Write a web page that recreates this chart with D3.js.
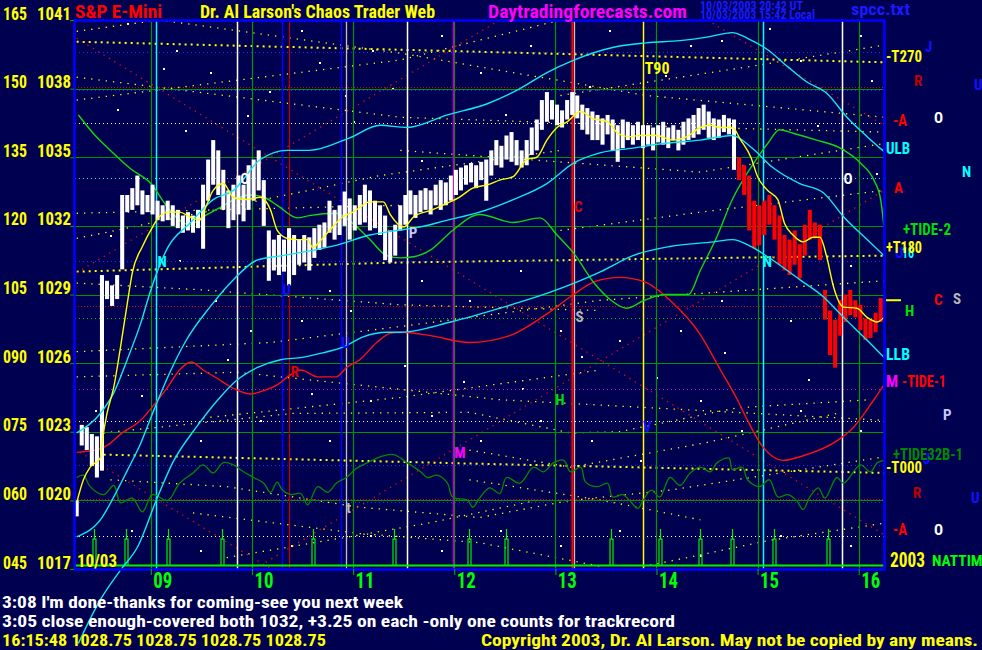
<!DOCTYPE html>
<html><head><meta charset="utf-8">
<script src="https://cdn.jsdelivr.net/npm/d3@7"></script>
<style>
html,body{margin:0;padding:0;background:#000050;overflow:hidden;}
svg{display:block;}
text{font-family:"Liberation Sans Narrow","Arial Narrow","Roboto Condensed","Liberation Sans",Arial,sans-serif;font-weight:bold;}
</style></head><body>
<svg id="chart" width="982" height="650"></svg>
<script>
// ---------------- DATA ----------------
const priceTicks = [1017,1020,1023,1026,1029,1032,1035,1038,1041];
const degreeLabels = ["045","060","075","090","105","120","135","150","165"];
const hourTicks = ["09:00","10:00","11:00","12:00","13:00","14:00","15:00","16:00"];
const timeDomain = ["08:15","16:15"];

const barStart = "08:16", barStepMin = 3, redFrom = "14:48";
const barHigh = [1020.0,1023.3,1023.2,1022.9,1022.8,1029.85,1029.6,1029.4,1029.85,1033.35,
1033.35,1033.65,1034.2,1033.55,1033.35,1033.8,1033.1,1032.9,1033.1,1032.9,
1032.7,1032.45,1032.6,1032.45,1032.7,1033.8,1034.9,1035.75,1035.3,1034.45,
1033.55,1033.8,1034.2,1033.8,1034.65,1034.9,1035.3,1034.0,1031.8,1031.4,
1031.6,1031.4,1031.9,1031.6,1031.4,1031.6,1031.5,1031.9,1032.05,1032.15,
1033.1,1032.7,1032.9,1033.5,1033.2,1032.9,1033.35,1033.8,1033.55,1033.1,
1032.9,1032.45,1031.8,1032.05,1032.9,1033.35,1033.55,1033.35,1033.55,1033.65,
1033.55,1033.8,1034.0,1033.9,1034.2,1034.45,1034.55,1034.65,1034.75,1034.65,
1034.8,1034.9,1035.3,1035.75,1035.5,1035.95,1036.1,1035.75,1035.3,1035.75,
1036.3,1036.65,1037.5,1037.85,1037.5,1037.3,1037.05,1037.5,1037.85,1037.7,
1037.3,1037.15,1037.0,1036.85,1036.7,1036.85,1036.65,1036.4,1036.65,1036.55,
1036.4,1036.55,1036.4,1036.4,1036.3,1036.4,1036.55,1036.3,1036.4,1036.2,
1036.55,1036.7,1036.85,1037.15,1037.3,1037.0,1036.7,1036.65,1036.85,1036.7,
1036.65,1035.0,1034.65,1034.2,1033.1,1032.9,1033.1,1033.35,1032.9,1032.45,
1031.6,1031.4,1031.8,1031.2,1032.05,1032.7,1032.15,1032.05,1029.2,1028.3,
1027.9,1028.75,1029.0,1029.2,1028.75,1028.55,1027.95,1027.9,1028.2,1028.85];
const barLow = [1019.3,1022.4,1022.2,1021.5,1021.0,1021.3,1028.8,1028.5,1028.8,1030.1,
1032.6,1032.7,1032.9,1032.5,1032.6,1032.5,1032.25,1032.2,1032.25,1032.0,
1031.9,1031.7,1031.8,1031.7,1031.9,1031.0,1033.1,1033.8,1033.35,1032.7,
1031.9,1032.25,1032.5,1032.2,1032.7,1033.1,1033.55,1032.0,1029.6,1030.05,
1029.85,1030.0,1029.4,1029.85,1030.3,1030.4,1030.05,1030.6,1030.95,1031.05,
1031.7,1031.4,1031.6,1032.0,1031.4,1031.8,1032.05,1032.15,1031.8,1031.9,
1031.6,1030.5,1030.4,1030.7,1031.8,1032.05,1032.5,1032.35,1032.6,1032.7,
1032.5,1032.9,1032.7,1032.9,1033.1,1033.35,1033.55,1033.8,1033.9,1033.65,
1034.0,1033.1,1034.2,1034.65,1034.55,1034.9,1034.8,1034.65,1034.55,1034.65,
1035.1,1035.3,1036.2,1036.55,1036.65,1036.4,1036.3,1036.65,1036.85,1036.7,
1036.2,1036.0,1035.75,1035.75,1035.55,1036.0,1035.3,1034.8,1035.4,1035.75,
1035.55,1035.75,1035.4,1035.55,1035.3,1035.65,1035.55,1035.4,1035.75,1035.3,
1035.55,1035.75,1035.85,1036.0,1036.2,1035.85,1035.75,1035.85,1036.1,1036.0,
1034.45,1034.0,1033.35,1031.8,1031.0,1031.15,1031.6,1032.05,1031.4,1030.3,
1030.05,1029.85,1030.3,1029.7,1030.7,1031.4,1031.45,1030.5,1027.9,1026.35,
1025.8,1027.2,1027.8,1028.1,1028.0,1027.45,1027.0,1027.1,1027.35,1027.8];
const lastPrice = 1028.75;

const maLine = [["08:16",1019.9],["08:20",1020.9],["08:24",1021.45],["08:30",1021.85],["08:31",1022.5],["08:34",1023.8],["08:38",1024.95],["08:42",1026.7],["08:46",1028.6],["08:49",1029.95],["08:55",1031.1],["09:01",1031.95],["09:05",1032.4],["09:11",1032.6],["09:17",1032.6],["09:23",1032.4],["09:29",1032.25],["09:33",1032.9],["09:37",1033.55],["09:43",1033.85],["09:49",1033.25],["09:57",1033.15],["10:05",1033.25],["10:11",1032.7],["10:15",1031.8],["10:21",1031.45],["10:27",1031.4],["10:33",1031.4],["10:36",1031.05],["10:40",1031.3],["10:46",1031.8],["10:54",1032.4],["11:00",1032.6],["11:10",1033.05],["11:18",1033.05],["11:22",1032.5],["11:30",1031.95],["11:36",1032.4],["11:47",1032.7],["11:56",1033.0],["12:03",1033.25],["12:11",1033.65],["12:20",1033.8],["12:27",1034.0],["12:35",1034.15],["12:43",1034.9],["12:49",1035.0],["12:55",1035.75],["13:01",1036.3],["13:07",1036.55],["13:15",1037.0],["13:22",1036.7],["13:31",1036.55],["13:37",1036.05],["13:43",1035.9],["13:50",1035.95],["14:00",1035.95],["14:10",1035.75],["14:18",1035.9],["14:26",1036.3],["14:32",1036.4],["14:38",1036.3],["14:45",1036.3],["14:50",1035.75],["14:56",1035.0],["15:00",1034.15],["15:06",1033.55],["15:12",1033.15],["15:16",1032.1],["15:21",1031.6],["15:27",1031.3],["15:33",1031.5],["15:37",1031.5],["15:41",1030.65],["15:45",1029.35],["15:51",1028.45],["15:59",1028.4],["16:05",1028.0],["16:11",1027.8],["16:15",1028.0]];

const ulbLine = [["08:16",1022.95],["08:30",1023.8],["08:38",1024.7],["08:46",1026.15],["08:54",1027.75],["09:00",1029.2],["09:10",1031.05],["09:23",1032.1],["09:37",1033.15],["09:49",1033.55],["10:05",1034.9],["10:21",1035.3],["10:34",1035.3],["10:58",1035.85],["11:16",1036.4],["11:32",1036.3],["11:56",1036.85],["12:20",1037.35],["12:39",1038.0],["12:55",1038.7],["13:11",1039.25],["13:34",1039.8],["13:54",1040.0],["14:14",1040.1],["14:30",1040.25],["14:45",1040.45],["14:54",1040.2],["15:06",1039.7],["15:18",1038.95],["15:29",1038.3],["15:41",1037.8],["15:53",1036.75],["16:05",1035.9],["16:15",1035.25]];

const midCyanLine = [["08:16",1018.4],["08:31",1019.25],["08:38",1020.15],["08:46",1021.3],["08:54",1022.5],["09:01",1023.8],["09:11",1025.55],["09:21",1027.0],["09:35",1028.45],["09:49",1029.65],["10:03",1030.5],["10:18",1030.7],["10:30",1030.85],["10:50",1031.15],["11:10",1031.6],["11:26",1031.8],["11:36",1031.9],["11:56",1032.25],["12:15",1032.6],["12:35",1033.15],["12:55",1033.85],["13:11",1034.75],["13:27",1035.2],["13:46",1035.4],["14:04",1035.6],["14:26",1035.75],["14:45",1035.95],["14:56",1035.45],["15:09",1034.55],["15:25",1033.85],["15:39",1033.45],["15:51",1032.4],["16:05",1031.4],["16:15",1030.7]];

const llbLine = [["08:17",1013.75],["08:30",1015.65],["08:42",1016.95],["08:52",1017.95],["09:04",1020.15],["09:13",1021.65],["09:27",1023.2],["09:41",1024.5],["09:51",1025.25],["10:03",1025.8],["10:17",1026.15],["10:30",1026.25],["10:42",1026.45],["10:54",1026.7],["11:06",1027.15],["11:20",1027.35],["11:28",1027.35],["11:58",1027.8],["12:27",1028.4],["12:57",1029.1],["13:27",1030.0],["13:46",1030.7],["14:08",1031.1],["14:34",1031.3],["14:45",1031.4],["14:56",1031.1],["15:06",1030.65],["15:25",1029.65],["15:39",1028.9],["15:51",1028.0],["16:05",1027.0],["16:15",1026.25]];

const greenLine = [["08:17",1036.85],["08:27",1035.95],["08:36",1035.3],["08:48",1034.5],["09:00",1033.85],["09:10",1032.8],["09:17",1032.25],["09:23",1032.05],["09:31",1032.4],["09:41",1032.8],["09:51",1033.2],["09:59",1033.35],["10:07",1033.25],["10:15",1032.9],["10:27",1032.35],["10:34",1032.45],["10:50",1032.55],["11:00",1032.1],["11:10",1031.4],["11:20",1030.7],["11:28",1030.6],["11:36",1030.65],["11:46",1030.95],["11:59",1031.8],["12:15",1032.5],["12:35",1032.15],["12:51",1032.35],["13:01",1031.6],["13:11",1030.8],["13:23",1029.5],["13:33",1028.75],["13:42",1028.4],["13:53",1028.75],["14:05",1029.0],["14:19",1029.0],["14:26",1030.05],["14:36",1031.55],["14:45",1033.15],["14:56",1034.55],["15:06",1035.6],["15:13",1036.2],["15:21",1036.05],["15:35",1035.75],["15:49",1035.4],["16:01",1034.75],["16:09",1034.0],["16:13",1033.15],["16:15",1031.95]];

const redLine = [["08:16",1022.1],["08:30",1022.25],["08:34",1022.4],["08:43",1022.95],["08:54",1023.5],["09:01",1024.1],["09:10",1024.95],["09:17",1025.7],["09:24",1026.05],["09:31",1025.7],["09:39",1025.35],["09:49",1024.9],["09:59",1024.65],["10:07",1024.8],["10:15",1025.05],["10:23",1025.5],["10:29",1025.7],["10:39",1025.4],["10:50",1025.4],["10:56",1025.8],["11:04",1026.15],["11:14",1026.9],["11:22",1027.3],["11:28",1027.35],["11:46",1027.2],["12:09",1026.9],["12:33",1027.2],["12:54",1028.1],["13:09",1028.9],["13:23",1029.55],["13:38",1029.75],["13:53",1029.55],["14:08",1028.75],["14:26",1027.25],["14:38",1025.7],["14:48",1024.4],["14:54",1023.5],["15:03",1022.35],["15:15",1021.75],["15:27",1021.95],["15:47",1022.6],["15:57",1023.2],["16:09",1024.4],["16:15",1025.05]];

const oscLine = [["08:16",1021.0],["08:20",1021.1],["08:24",1020.6],["08:32",1020.25],["08:38",1020.65],["08:42",1019.9],["08:49",1020.1],["08:55",1019.5],["09:01",1020.25],["09:10",1020.0],["09:17",1020.75],["09:25",1021.2],["09:31",1021.55],["09:37",1021.2],["09:43",1021.65],["09:49",1021.55],["09:55",1021.25],["10:01",1021.0],["10:07",1020.75],["10:11",1020.35],["10:15",1020.8],["10:18",1020.45],["10:23",1020.25],["10:29",1020.3],["10:33",1019.8],["10:39",1020.6],["10:45",1020.35],["10:50",1020.75],["10:56",1021.0],["11:02",1021.4],["11:10",1021.7],["11:16",1021.9],["11:24",1022.0],["11:32",1021.65],["11:40",1021.25],["11:44",1021.0],["11:50",1021.1],["11:56",1020.75],["11:59",1020.15],["12:08",1020.0],["12:11",1019.7],["12:15",1020.1],["12:21",1020.55],["12:27",1020.3],["12:31",1021.0],["12:39",1020.75],["12:47",1021.45],["12:53",1021.25],["12:59",1021.65],["13:05",1021.75],["13:09",1021.25],["13:15",1021.45],["13:18",1020.8],["13:25",1020.6],["13:31",1020.75],["13:34",1020.15],["13:40",1020.25],["13:44",1020.0],["13:49",1019.65],["13:52",1020.0],["13:57",1020.45],["14:02",1020.15],["14:08",1021.0],["14:14",1020.65],["14:20",1021.2],["14:26",1021.45],["14:32",1021.25],["14:36",1021.65],["14:43",1021.85],["14:45",1021.35],["14:51",1021.45],["14:54",1020.9],["15:01",1020.6],["15:07",1020.9],["15:12",1020.15],["15:18",1020.25],["15:23",1020.0],["15:27",1019.6],["15:31",1020.15],["15:36",1020.55],["15:40",1020.1],["15:47",1021.0],["15:51",1020.75],["16:01",1021.55],["16:07",1021.25],["16:11",1021.65],["16:15",1021.75]];

const nattimeSpikes = ["08:26","08:45","09:10","09:42","10:36","11:24","12:09","12:31","13:33","14:02","14:26","14:45","15:10","15:42"];

const cyanVerticals = ["09:03","15:03"];
const whiteVerticals = ["09:51","11:32","15:50"];
const blueVerticals = ["10:18","10:53"];
const grayVerticals = ["10:56","13:11"];
const darkRedVerticals = ["10:22"];
const magentaVerticals = ["11:59"];
const redVerticals = ["13:10"];
const yellowVerticals = ["13:52"];

const blueLevels = [1039.6,1037.94,1030.46,1021.54,1019.92];
const redLevels = [1038.07,1028.5,1020.05];
const whiteLevels = [1036.5,1023.46,1018.43];
const cyanLevels = [1034.1];
const greenLevels = [1027.97];
const magentaLevels = [1024.86];

const yellowFan = [
 [["08:16",1040.5],["09:05",1041.0]],
 [["09:05",1041.0],["11:28",1039.55],["13:54",1037.7],["16:15",1036.75]],
 [["08:16",1038.5],["11:28",1036.75],["14:26",1036.3],["16:15",1036.1]],
 [["08:16",1037.5],["11:28",1039.25],["13:03",1041.0]],
 [["13:03",1037.7],["14:54",1038.95],["16:15",1039.9]],
 [["11:28",1035.3],["14:26",1034.35],["16:15",1035.6]],
 [["08:16",1032.55],["11:28",1032.9]],
 [["08:16",1031.45],["11:16",1034.2],["13:03",1035.3]],
 [["08:16",1029.5],["09:31",1029.2],["11:28",1028.55],["13:27",1028.3]],
 [["08:16",1026.5],["10:11",1026.9],["11:28",1027.6],["13:27",1028.75],["16:15",1029.6]],
 [["08:16",1025.4],["09:51",1025.6],["12:27",1024.4],["16:15",1023.5]],
 [["09:31",1023.6],["11:28",1024.5],["13:27",1025.7]],
 [["13:03",1031.8],["14:26",1032.6],["16:15",1033.55]],
 [["08:32",1022.95],["10:24",1023.8],["12:09",1023.85],["13:09",1022.95],["13:38",1023.0],["14:48",1024.05],["16:07",1024.4]],
 [["08:36",1020.9],["09:45",1020.6],["11:04",1019.7],["12:15",1019.25],["13:09",1020.0],["14:08",1020.45],["16:15",1021.9]],
 [["09:25",1019.45],["11:04",1018.55],["12:15",1018.15],["13:28",1017.1]],
 [["09:45",1017.5],["10:45",1018.25],["11:44",1019.0],["12:49",1020.0]],
 [["12:09",1022.2],["13:09",1021.45],["14:28",1022.5],["15:47",1023.8]],
 [["13:52",1017.1],["15:07",1018.25],["16:15",1019.0]],
 [["12:09",1020.9],["13:28",1020.0],["14:26",1019.15]]
];
const yellowFanThick = [
 [["08:16",1040.05],["11:28",1039.7],["16:15",1039.15]],
 [["08:16",1030.0],["11:28",1030.4],["16:15",1030.7]],
 [["08:32",1022.0],["12:15",1021.6],["16:15",1021.2]]
];
const redFan = [
 [["08:16",1040.2],["16:15",1018.5]],
 [["08:18",1022.1],["10:29",1016.2]],
 [["10:05",1017.15],["16:15",1033.55]],
 [["08:16",1029.95],["12:27",1041.0]],
 [["14:30",1041.0],["16:15",1036.4]]
];

// scattered white dots [time, price]
const whiteDots = [["08:46",1040.87],["09:15",1039.69],["09:07",1038.9],["09:35",1038.73],["09:57",1036.85],["10:29",1040.56],["10:40",1039.16],["10:55",1037.72],["11:11",1039.69],["11:23",1038.03],["11:52",1040.34],["12:15",1038.73],["12:45",1039.9],["13:32",1040.56],["14:20",1039.9],["14:38",1040.13],["15:07",1040.65],["15:25",1039.25],["16:01",1040.34],["16:07",1038.38],
["08:36",1031.6],["09:17",1030.51],["09:38",1028.76],["09:59",1027.45],["10:29",1027.88],["10:46",1029.2],["10:58",1028.32],["11:40",1029.63],["12:09",1028.76],["12:39",1030.07],["13:03",1027.45],["13:38",1027.01],["14:14",1027.45],["14:38",1028.76],["15:19",1027.88],["15:55",1030.29],
["08:27",1023.95],["08:54",1024.6],["09:29",1022.64],["10:05",1023.51],["10:46",1022.64],["11:10",1024.39],["11:46",1023.73],["12:15",1022.64],["12:51",1023.51],["13:21",1022.64],["13:50",1021.76],["14:26",1024.39],["14:50",1023.07],["15:25",1023.95],["16:01",1023.07],
["08:48",1018.7],["09:29",1017.83],["10:23",1018.05],["11:10",1018.48],["11:52",1017.83],["12:27",1018.7],["13:03",1018.05],["13:38",1018.7],["14:26",1017.61],["15:13",1018.48],["15:55",1018.05],
["08:40",1037.1],["09:20",1036.2],["10:10",1037.9],["11:00",1036.6],["11:40",1034.9],["12:30",1036.9],["13:20",1038.1],["14:05",1038.6],["15:35",1036.4],["16:10",1034.3],
["08:30",1027.3],["09:45",1026.2],["10:35",1024.7],["11:30",1025.9],["12:05",1025.2],["12:40",1024.9],["13:15",1026.3],["14:00",1025.4],["14:40",1026.5],["15:30",1025.3]];

const titleText = ["S&P E-Mini","Dr. Al Larson's Chaos Trader Web","Daytradingforecasts.com"];
const stampText = ["10/03/2003 20:42 UT","10/03/2003 15:42 Local"];
const fileText = "spcc.txt";
const dateLabel = "10/03", yearLabel = "2003", cycleLabel = "NATTIME";
const messages = ["3:08 I'm done-thanks for coming-see you next week",
 "3:05 close enough-covered both 1032, +3.25 on each -only one counts for trackrecord"];
const quoteLine = "16:15:48  1028.75 1028.75 1028.75 1028.75";
const copyright = "Copyright 2003, Dr. Al Larson. May not be copied by any means.";

// in-plot glyphs [text, time, price]
const whiteGlyphs = [["O","09:53",1033.85],["O","15:51",1033.85]];
const cyanGlyphs = [["N","09:04",1030.2],["N","15:03",1030.2]];
const blueGlyphs = [["U","10:18",1029.0],["U","10:53",1026.65],["V","13:52",1023.0]];
const redGlyphs = [["R","10:23",1025.4],["C","13:11",1032.6]];
const grayGlyphs = [["t","10:56",1019.45],["S","13:12",1027.8]];
const lavGlyphs = [["P","11:33",1031.45]];
const magGlyphs = [["M","12:00",1021.85]];
const greenGlyphs = [["H","13:00",1024.15]];
const yellowGlyphs = [["T90","13:53",1038.65]];

// right margin labels [text, price]
const rightYellow = [["-T270",1039.15],["+T180",1030.8],["-T000",1021.2]];
const rightCyan = [["ULB",1035.15],["LLB",1026.15]];
const rightGreen = [["+TIDE-2",1031.6]];
const rightDkGreen = [["+TIDE32B-1",1021.75]];
const rightRedTide = [["-TIDE-1",1024.95]];
const rightMag = [["M",1024.95]];

// ---------------- DRAW ----------------
const svg = d3.select("#chart");
const parse = d3.timeParse("%H:%M");
const T = s => parse(s.length === 4 ? "0" + s : s);
const x = d3.scaleTime().domain(timeDomain.map(T)).range([75, 884]);
const y = d3.scaleLinear().domain([priceTicks[0], priceTicks[priceTicks.length-1]]).range([569, 20]);
const L = 75, R = 884, TOP = 20, BOT = 569;

svg.append("rect").attr("width",982).attr("height",650).attr("fill","#000050");
svg.append("defs").append("clipPath").attr("id","plot").append("rect")
  .attr("x",L).attr("y",TOP).attr("width",R-L).attr("height",BOT-TOP);

const plot = svg.append("g").attr("clip-path","url(#plot)");
const lineGen = d3.line().x(d=>x(T(d[0]))).y(d=>y(d[1]));
const smooth = d3.line().x(d=>x(T(d[0]))).y(d=>y(d[1])).curve(d3.curveMonotoneX);
const wiggle = d3.line().x(d=>x(T(d[0]))).y(d=>y(d[1])).curve(d3.curveCatmullRom.alpha(0.5));

// white dots
plot.selectAll(null).data(whiteDots).enter().append("rect")
  .attr("x",d=>Math.round(x(T(d[0])))).attr("y",d=>Math.round(y(d[1])))
  .attr("width",2).attr("height",2).attr("fill","#ffffff");

// horizontal dotted levels
function levels(arr, color, dash){
  plot.selectAll(null).data(arr).enter().append("line")
    .attr("x1",L).attr("x2",R).attr("y1",d=>Math.round(y(d))+0.5).attr("y2",d=>Math.round(y(d))+0.5)
    .attr("stroke",color).attr("stroke-width",1).attr("stroke-dasharray",dash);
}
levels(blueLevels,"#2828ff","1 3");
levels(redLevels,"#e00000","1 2");
levels(whiteLevels,"#ffffff","1 3");
levels(cyanLevels,"#00ffff","1 3");
levels(greenLevels,"#00d000","1 3");
levels(magentaLevels,"#e000e0","1 3");

// yellow fan lines
plot.selectAll(null).data(yellowFan).enter().append("path").attr("d",lineGen)
  .attr("fill","none").attr("stroke","#ffff00").attr("stroke-width",1.3).attr("stroke-dasharray","1.3 6");
plot.selectAll(null).data(yellowFanThick).enter().append("path").attr("d",lineGen)
  .attr("fill","none").attr("stroke","#ffff00").attr("stroke-width",2).attr("stroke-dasharray","2 4");
plot.selectAll(null).data(redFan).enter().append("path").attr("d",lineGen)
  .attr("fill","none").attr("stroke","#ff0000").attr("stroke-width",1.3).attr("stroke-dasharray","1.3 5");

// horizontal grid (green) at ticks
plot.selectAll(null).data(priceTicks).enter().append("line")
  .attr("x1",L).attr("x2",R).attr("y1",d=>Math.round(y(d))+0.5).attr("y2",d=>Math.round(y(d))+0.5)
  .attr("stroke","#009400").attr("stroke-width",1.2);

// verticals
function verts(arr, color, w){
  plot.selectAll(null).data(arr).enter().append("line")
    .attr("x1",d=>Math.round(x(T(d)))+0.5).attr("x2",d=>Math.round(x(T(d)))+0.5)
    .attr("y1",TOP).attr("y2",BOT).attr("stroke",color).attr("stroke-width",w);
}
verts(hourTicks,"#009400",1.2);
verts(cyanVerticals,"#00ffff",1.5);
verts(whiteVerticals,"#ffffff",1.5);
verts(blueVerticals,"#0000ff",1.5);
verts(grayVerticals,"#c0c0c0",1.3);
verts(darkRedVerticals,"#c00000",1.2);
verts(magentaVerticals,"#c000c0",1.5);
verts(redVerticals,"#ff0000",2.2);
verts(yellowVerticals,"#ffff00",1.5);

// oscillator
plot.append("path").datum(oscLine).attr("d",wiggle).attr("fill","none")
  .attr("stroke","#008a00").attr("stroke-width",1.3);

// NATTIME panel
const ySp = d3.scaleLinear().domain([0,1]).range([565.5,529]);
plot.append("line").attr("x1",L).attr("x2",R).attr("y1",ySp(0)).attr("y2",ySp(0))
  .attr("stroke","#00f000").attr("stroke-width",2);
const spikePath = d3.line();
plot.selectAll(null).data(nattimeSpikes).enter().append("path")
  .attr("d",d=>{const sx=Math.round(x(T(d)))+0.5;return spikePath([[sx-1.5,ySp(0)],[sx-1.5,ySp(0.72)],[sx,ySp(0.72)],[sx,ySp(1)],[sx,ySp(0.72)],[sx+1.5,ySp(0.72)],[sx+1.5,ySp(0)]]);})
  .attr("fill","none").attr("stroke","#00f000").attr("stroke-width",1.2);

// curves
plot.append("path").datum(redLine).attr("d",smooth).attr("fill","none").attr("stroke","#ff1010").attr("stroke-width",1.4);
plot.append("path").datum(greenLine).attr("d",smooth).attr("fill","none").attr("stroke","#10d810").attr("stroke-width",1.4);

// price bars
const t0 = T(barStart), tRed = T(redFrom);
const bars = barHigh.map((h,i)=>({t:d3.timeMinute.offset(t0,i*barStepMin),h,l:barLow[i]}));
const bw = (x(d3.timeMinute.offset(t0,barStepMin)) - x(t0));
plot.selectAll(null).data(bars).enter().append("rect")
  .attr("x",d=>x(d.t)-bw*0.4).attr("width",bw*0.8)
  .attr("y",d=>y(d.h)).attr("height",d=>Math.max(2,y(d.l)-y(d.h)))
  .attr("fill",d=>d.t>=tRed?"#ff0000":"#ffffff");

// cyan curves + MA
plot.append("path").datum(ulbLine).attr("d",smooth).attr("fill","none").attr("stroke","#10e8f0").attr("stroke-width",1.4);
plot.append("path").datum(midCyanLine).attr("d",smooth).attr("fill","none").attr("stroke","#10e8f0").attr("stroke-width",1.4);
svg.append("path").datum(llbLine).attr("d",smooth).attr("fill","none").attr("stroke","#10e8f0").attr("stroke-width",1.4);
plot.append("path").datum(maLine).attr("d",smooth).attr("fill","none").attr("stroke","#ffff00").attr("stroke-width",1.4);

// glyphs in plot
function glyphs(arr,color,size){
  svg.selectAll(null).data(arr).enter().append("text")
    .attr("x",d=>x(T(d[1]))).attr("y",d=>y(d[2])).text(d=>d[0])
    .attr("fill",color).attr("font-size",size);
}
glyphs(whiteGlyphs,"#ffffff",15);
glyphs(cyanGlyphs,"#00ffff",15);
glyphs(blueGlyphs,"#1010ff",15);
glyphs(redGlyphs,"#e00000",15);
glyphs(grayGlyphs,"#b8b8b8",15);
glyphs(lavGlyphs,"#c8c8ff",15);
glyphs(magGlyphs,"#ff00ff",15);
glyphs(greenGlyphs,"#00e000",15);
glyphs(yellowGlyphs,"#ffff00",16);

// frame
svg.append("rect").attr("x",L-0.5).attr("y",TOP+0.5).attr("width",R-L+1).attr("height",BOT-TOP)
  .attr("fill","none").attr("stroke","#0000ff").attr("stroke-width",2.6);

// left axis
const yAxis = d3.axisLeft(y).tickValues(priceTicks).tickSize(4).tickFormat("");
const gy = svg.append("g").attr("transform",`translate(${L-1},0)`).call(yAxis);
gy.select(".domain").remove();
gy.selectAll(".tick line").attr("stroke","#00a000");
svg.selectAll(null).data(priceTicks).enter().append("text")
  .attr("x",37).attr("y",d=>y(d)-0.5).text(d=>d).attr("fill","#ffff00").attr("font-size",19)
  .attr("textLength",34).attr("lengthAdjust","spacingAndGlyphs");
svg.selectAll(null).data(degreeLabels).enter().append("text")
  .attr("x",3).attr("y",(d,i)=>y(priceTicks[i])-0.5).text(d=>d).attr("fill","#ffff00").attr("font-size",19)
  .attr("textLength",24).attr("lengthAdjust","spacingAndGlyphs");

// bottom axis
const xAxis = d3.axisBottom(x).tickValues(hourTicks.map(T)).tickSize(6).tickFormat(d3.timeFormat("%H"));
const gx = svg.append("g").attr("transform",`translate(0,${BOT})`).call(xAxis)
  .attr("font-size",null).attr("font-family",null);
gx.select(".domain").remove();
gx.selectAll(".tick line").attr("stroke","#00a000").attr("stroke-width",1.2);
gx.selectAll(".tick text").attr("fill","#00ff00").attr("font-size",22).attr("text-anchor","start")
  .attr("x",2).attr("y",3).attr("dy","0.71em").attr("textLength",19).attr("lengthAdjust","spacingAndGlyphs");

// texts helper
function txt(s,xp,yp,color,size,len){
  const t = svg.append("text").attr("x",xp).attr("y",yp).text(s).attr("fill",color).attr("font-size",size);
  if(len) t.attr("textLength",len).attr("lengthAdjust","spacingAndGlyphs");
  return t;
}
// header
txt(titleText[0],75,18,"#ff0000",19,87);
txt(titleText[1],200,18,"#ffff00",19,235);
txt(titleText[2],488,18,"#ff00ff",19,199);
txt(stampText[0],700,9.5,"#1a1aff",12,103);
txt(stampText[1],700,18.5,"#1a1aff",12,115);
txt(fileText,851,15,"#1a1aff",17,59);

// in-plot date / year
txt(dateLabel,77,567,"#ffff00",19,40);
txt(yearLabel,890,567,"#ffff00",20,35);
txt(cycleLabel,932,566,"#00ff00",15,58);

// right labels
const RX = 886;
txt("J",925,y(1039.6),"#1010ff",15);
txt("R",914,y(1038.1),"#c00000",15);
txt("U",974,y(1037.95),"#1010ff",15);
txt("-A",893,y(1036.35),"#ff0000",16,14);
txt("O",934,y(1036.5),"#ffffff",15);
txt("N",962,y(1034.15),"#00ffff",15);
txt("A",894,y(1033.45),"#ff0000",15);
txt("U",895,y(1030.6),"#1010ff",15);
txt("16",902,y(1030.6),"#00ffff",15,12);
txt("C",934,y(1028.55),"#ff0000",15);
txt("S",953,y(1028.6),"#b8b8b8",15);
txt("H",905,y(1028.05),"#00e000",15);
txt("P",943,y(1023.5),"#c8c8ff",15);
txt("J",923,y(1021.6),"#1010ff",15);
txt("R",913,y(1020.1),"#c00000",15);
txt("U",971,y(1019.9),"#1010ff",15);
txt("-A",893,y(1018.5),"#ff0000",16,14);
txt("O",934,y(1018.5),"#ffffff",15);
rightYellow.forEach(d=>txt(d[0],RX,y(d[1]),"#ffff00",16,d[0].length*7.2));
rightCyan.forEach(d=>txt(d[0],RX,y(d[1]),"#00ffff",16,24));
rightGreen.forEach(d=>txt(d[0],903,y(d[1]),"#00dd00",16,48));
rightDkGreen.forEach(d=>txt(d[0],893,y(d[1]),"#008800",16,70));
rightRedTide.forEach(d=>txt(d[0],902,y(d[1]),"#ff0000",16,44));
rightMag.forEach(d=>txt(d[0],RX,y(d[1]),"#ff00ff",16));
svg.append("line").attr("x1",886).attr("x2",901).attr("y1",y(lastPrice)).attr("y2",y(lastPrice))
  .attr("stroke","#ffff00").attr("stroke-width",2);

// bottom messages
txt(messages[0],2,608,"#ffffff",17,401);
txt(messages[1],2,627,"#ffffff",17,673);
txt(quoteLine,2,646,"#ffff00",17,324);
txt(copyright,481,646,"#ffff00",17,497);
</script></body></html>
